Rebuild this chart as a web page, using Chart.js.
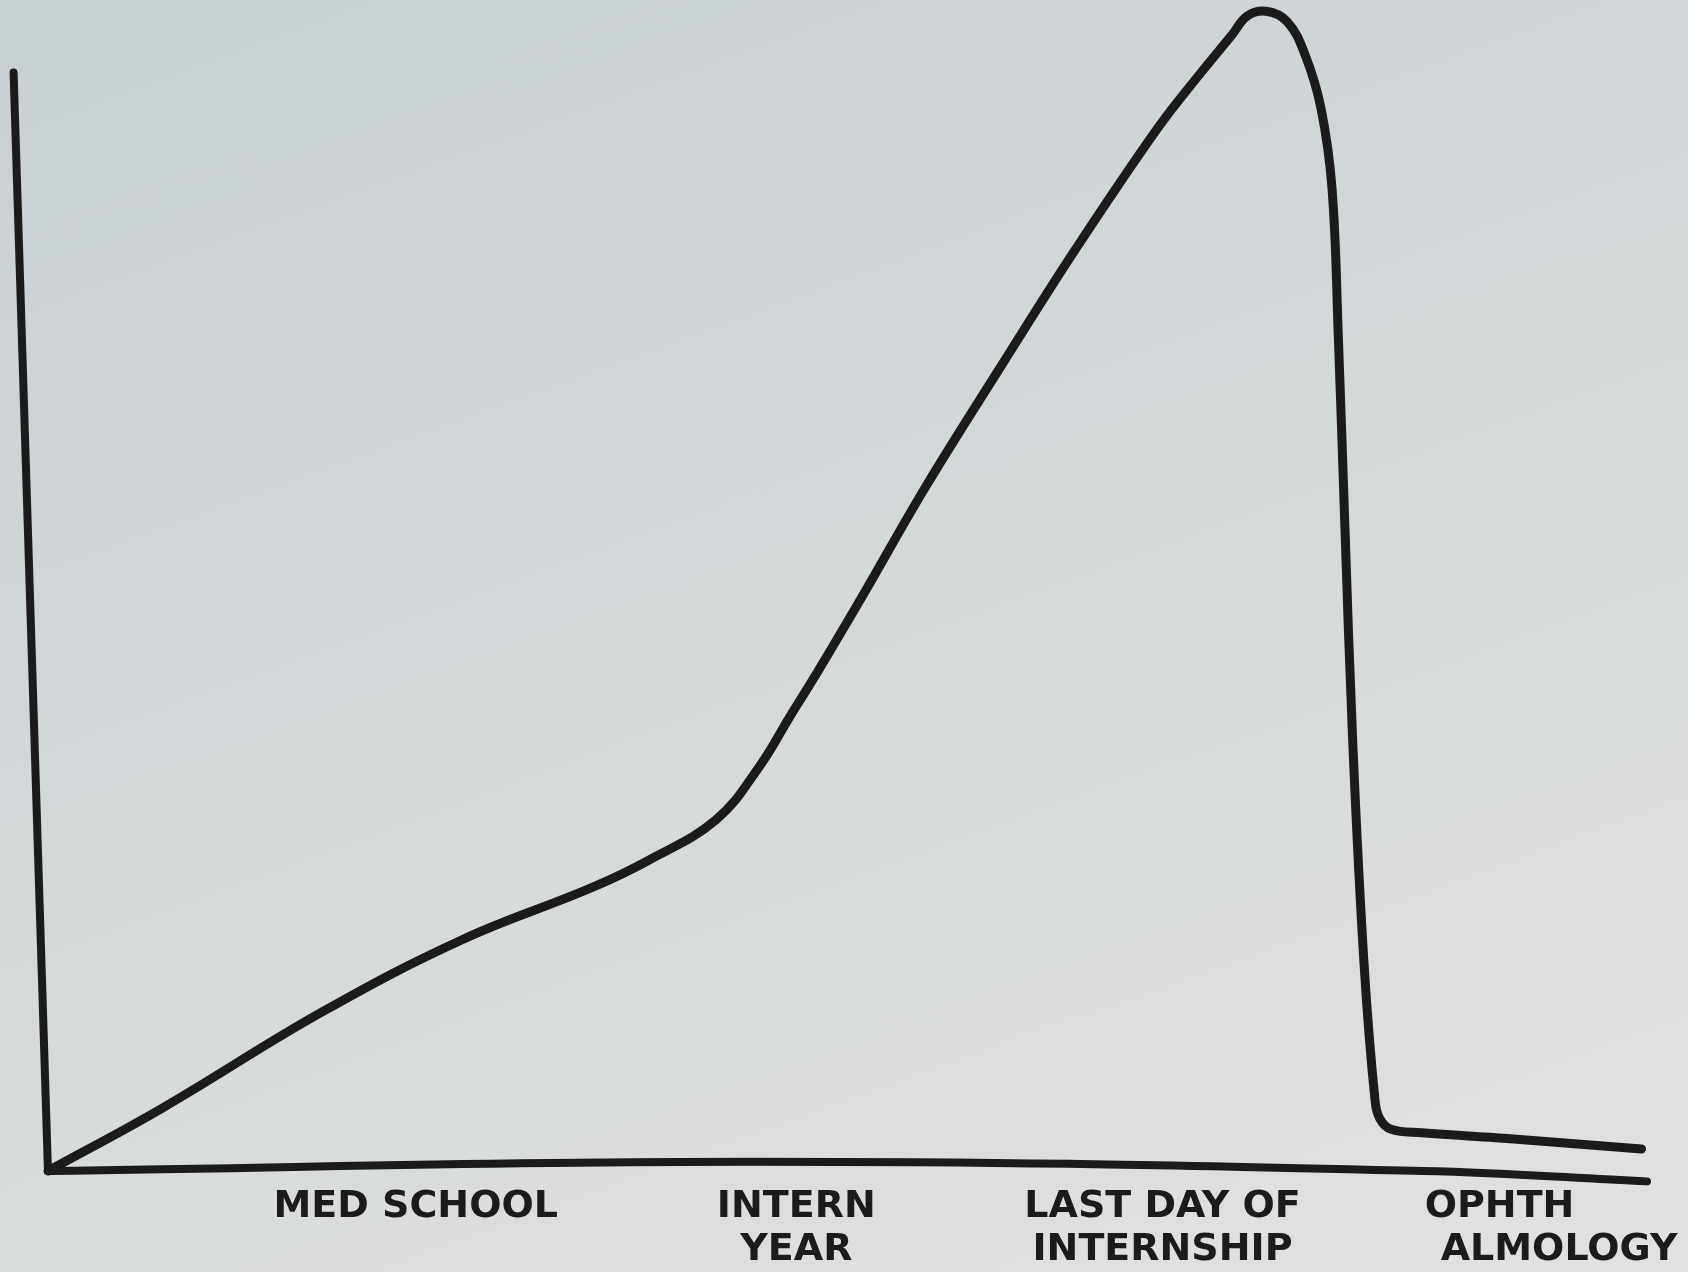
<!DOCTYPE html>
<html lang="en">
<head>
<meta charset="UTF-8">
<title>Med School to Ophthalmology</title>
<script src="https://cdn.jsdelivr.net/npm/chart.js"></script>
<style>
  html, body { margin: 0; padding: 0; }
  body {
    width: 1688px;
    height: 1272px;
    overflow: hidden;
    background: linear-gradient(160deg, #c9d0d4 0%, #d3d8d9 45%, #e1e2df 100%);
  }
  canvas { display: block; }
</style>
</head>
<body>
<canvas id="sketch" width="1688" height="1272"></canvas>
<script>
// hand-drawn curve (x: 0..100 along the axis, y: 0..100 up to the peak)
const curveX = [0, 7.1, 17.2, 25.9, 34.0, 37.6, 41.8, 44.5, 46.4, 48.1, 50.8, 54.9, 59.6, 64.3, 69.4, 72.05, 74.07, 75.0, 76.2, 77.5, 78.6, 79.6, 80.3, 80.7, 81.1, 81.6, 82.3, 83.0, 83.3, 84.0, 85.9, 91.25, 99.66];
const curveY = [0, 5.4, 13.8, 20.0, 24.5, 26.9, 30.4, 35.0, 39.3, 43.1, 49.4, 59.2, 69.6, 79.8, 90.2, 94.9, 98.3, 99.9, 100.3, 99.4, 96.6, 92.0, 85.0, 72.0, 56.0, 37.0, 18.0, 6.0, 4.5, 3.6, 3.3, 2.8, 1.9];

// the drawn axes
const xAxisX = [0, 44, 86, 100];
const xAxisY = [0, 0.8, 0, -0.9];
const yAxisX = [-2.15, 0];
const yAxisY = [95, 0];

// x-axis labels
const tickPositions = [23.0, 46.8, 69.7, 94.5];
const tickLabels = [
  ['MED SCHOOL'],
  ['INTERN', 'YEAR'],
  ['LAST DAY OF', 'INTERNSHIP'],
  ['OPHTH         ', 'ALMOLOGY']
];

const ink = '#1b1b1b';
const toPoints = (xs, ys) => xs.map((x, i) => ({ x: x, y: ys[i] }));

const ctx = document.getElementById('sketch').getContext('2d');

new Chart(ctx, {
  type: 'line',
  data: {
    datasets: [
      {
        label: 'curve',
        data: toPoints(curveX, curveY),
        borderColor: ink,
        borderWidth: 9,
        borderJoinStyle: 'round',
        borderCapStyle: 'round',
        tension: 0.4,
        pointRadius: 0,
        fill: false,
        clip: false
      },
      {
        label: 'x axis',
        data: toPoints(xAxisX, xAxisY),
        borderColor: ink,
        borderWidth: 8,
        borderCapStyle: 'round',
        tension: 0.4,
        pointRadius: 0,
        fill: false,
        clip: false
      },
      {
        label: 'y axis',
        data: toPoints(yAxisX, yAxisY),
        borderColor: ink,
        borderWidth: 8,
        borderCapStyle: 'round',
        pointRadius: 0,
        fill: false,
        clip: false
      }
    ]
  },
  options: {
    responsive: false,
    animation: false,
    devicePixelRatio: 1,
    layout: { padding: { top: 9, left: 0, right: 41, bottom: 0 } },
    plugins: {
      legend: { display: false },
      tooltip: { enabled: false }
    },
    scales: {
      x: {
        type: 'linear',
        min: -3,
        max: 100,
        grid: { display: false },
        border: { display: false },
        afterBuildTicks: scale => {
          scale.ticks = tickPositions.map(v => ({ value: v }));
        },
        afterFit: scale => {
          scale.height = 86;
          scale.paddingLeft = 0;
          scale.paddingRight = 0;
        },
        ticks: {
          autoSkip: false,
          maxRotation: 0,
          padding: -8,
          color: ink,
          font: { family: 'DejaVu Sans', size: 38, weight: 'bold', lineHeight: 1.12 },
          callback: (value, index) => tickLabels[index]
        }
      },
      y: {
        display: false,
        min: -1.3,
        max: 100.5
      }
    }
  }
});
</script>
</body>
</html>
